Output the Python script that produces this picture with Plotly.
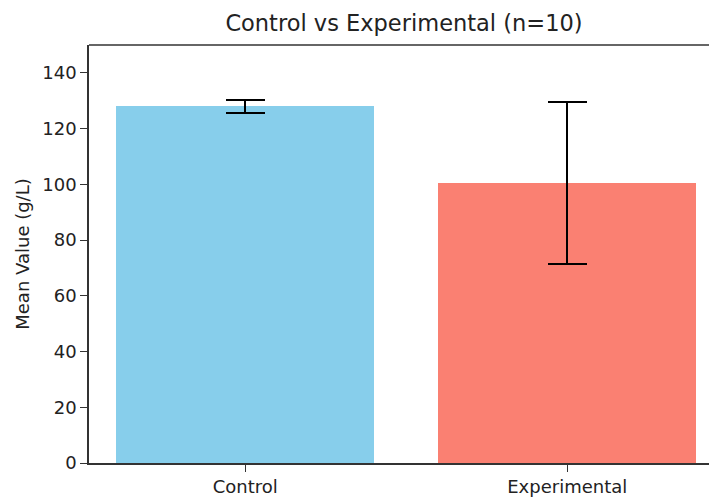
import plotly.graph_objects as go

groups = ["Control", "Experimental"]
means = [128.0, 100.5]
errors = [2.3, 29.0]
colors = ["#87CEEB", "#FA8072"]
y_ticks = [0, 20, 40, 60, 80, 100, 120, 140]

fig = go.Figure()
fig.add_trace(go.Bar(
    x=[0, 1],
    y=means,
    width=0.8,
    marker=dict(color=colors, line=dict(width=0)),
    error_y=dict(type="data", array=errors, visible=True,
                 color="black", thickness=1.8, width=19.5),
))

# page body has an 8px margin, so the figure is placed 8px in from the corner
fig.update_layout(
    width=709, height=489,
    margin=dict(l=81, r=0, t=37, b=29),
    plot_bgcolor="white", paper_bgcolor="white",
    font=dict(family="DejaVu Sans", size=18, color="#222"),
    showlegend=False,
    title=dict(text="Control vs Experimental (n=10)", x=0.5585, xanchor="center",
               y=0.969, yanchor="middle",
               font=dict(size=22.5, color="#222")),
    bargap=0,
)
fig.update_xaxes(
    range=[-0.485, 1.465], tickvals=[0, 1], ticktext=groups,
    showline=True, linecolor="#333", linewidth=1.5,
    ticks="outside", ticklen=7, tickcolor="#333", showgrid=False, zeroline=False,
)
fig.update_yaxes(
    range=[0, 150], tickvals=y_ticks,
    title=dict(text="Mean Value (g/L)", font=dict(size=18), standoff=8),
    showline=True, linecolor="#333", linewidth=1.5,
    ticks="outside", ticklen=7, tickcolor="#333", showgrid=False, zeroline=False,
)
fig.add_shape(type="line", xref="paper", yref="paper", x0=0, x1=1, y0=1, y1=1,
              line=dict(color="#333", width=1.5))

fig.write_html("out.html")
